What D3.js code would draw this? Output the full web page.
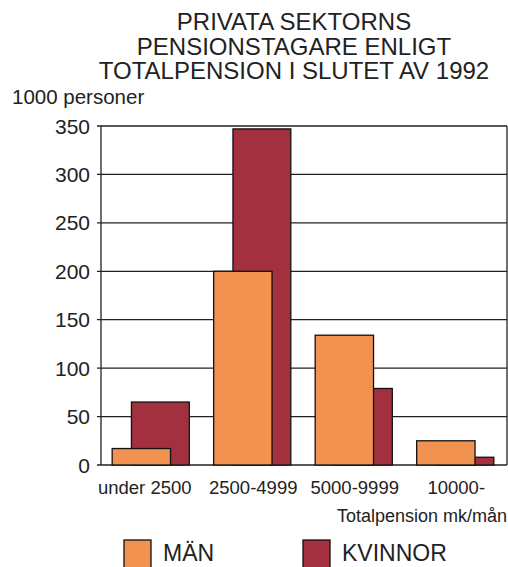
<!DOCTYPE html>
<html>
<head>
<meta charset="utf-8">
<script src="https://cdn.jsdelivr.net/npm/d3@7"></script>
<style>
  body { margin: 0; background: #fff; }
  svg { display: block; font-family: "Liberation Sans", Arial, sans-serif; }
</style>
</head>
<body>
<svg id="chart" width="508" height="567"></svg>
<script>
const categories = ["under 2500", "2500-4999", "5000-9999", "10000-"];
const man = [17, 200, 134, 25];
const kvinnor = [65, 347, 79, 8];
const yTicks = [0, 50, 100, 150, 200, 250, 300, 350];
const titleLines = ["PRIVATA SEKTORNS", "PENSIONSTAGARE ENLIGT", "TOTALPENSION I SLUTET AV 1992"];

const ORANGE = "#f19250";
const RED = "#a3303f";

const svg = d3.select("svg#chart");

const x = d3.scaleBand()
  .domain(categories)
  .range([101, 507])
  .padding(0);

const y = d3.scaleLinear()
  .domain([0, 350])
  .range([465, 126]);

// title
svg.append("g")
  .selectAll("text")
  .data(titleLines)
  .join("text")
  .attr("x", 294)
  .attr("y", (d, i) => 30 + i * 24.5)
  .attr("text-anchor", "middle")
  .attr("font-size", 24)
  .attr("fill", "#222")
  .text(d => d);

svg.append("text")
  .attr("x", 12)
  .attr("y", 104)
  .attr("font-size", 20.5)
  .attr("fill", "#222")
  .text("1000 personer");

// gridlines
svg.append("g")
  .selectAll("line")
  .data(yTicks)
  .join("line")
  .attr("x1", 97)
  .attr("x2", 507)
  .attr("y1", d => y(d))
  .attr("y2", d => y(d))
  .attr("stroke", "#222")
  .attr("stroke-width", 1.3);

svg.append("g")
  .selectAll("text")
  .data(yTicks)
  .join("text")
  .attr("x", 90)
  .attr("y", d => y(d) + 7.5)
  .attr("text-anchor", "end")
  .attr("font-size", 21)
  .attr("fill", "#222")
  .text(d => d);

// frame sides
svg.append("line")
  .attr("x1", 101).attr("x2", 101)
  .attr("y1", y(350)).attr("y2", y(0))
  .attr("stroke", "#222").attr("stroke-width", 1.3);
svg.append("line")
  .attr("x1", 507).attr("x2", 507)
  .attr("y1", y(350)).attr("y2", y(0))
  .attr("stroke", "#222").attr("stroke-width", 1.3);

const bw = x.bandwidth();

// kvinnor behind
svg.append("g")
  .selectAll("rect")
  .data(kvinnor)
  .join("rect")
  .attr("x", (d, i) => x(categories[i]) + bw * 0.30)
  .attr("y", d => y(d))
  .attr("width", bw * 0.57)
  .attr("height", d => y(0) - y(d))
  .attr("fill", RED)
  .attr("stroke", "#111")
  .attr("stroke-width", 1.3);

// män in front
svg.append("g")
  .selectAll("rect")
  .data(man)
  .join("rect")
  .attr("x", (d, i) => x(categories[i]) + bw * 0.11)
  .attr("y", d => y(d))
  .attr("width", bw * 0.575)
  .attr("height", d => y(0) - y(d))
  .attr("fill", ORANGE)
  .attr("stroke", "#111")
  .attr("stroke-width", 1.3);

// category labels
svg.append("g")
  .selectAll("text")
  .data(categories)
  .join("text")
  .attr("x", d => x(d) + bw / 2 - (d === categories[0] ? 7 : 0))
  .attr("y", 494)
  .attr("text-anchor", "middle")
  .attr("font-size", 18.5)
  .attr("fill", "#222")
  .text(d => d);

svg.append("text")
  .attr("x", 507)
  .attr("y", 522)
  .attr("text-anchor", "end")
  .attr("font-size", 18)
  .attr("fill", "#222")
  .text("Totalpension mk/mån");

// legend
const legend = [
  { name: "MÄN", color: ORANGE, x: 124 },
  { name: "KVINNOR", color: RED, x: 303 }
];
const lg = svg.append("g")
  .selectAll("g")
  .data(legend)
  .join("g")
  .attr("transform", d => `translate(${d.x},540)`);
lg.append("rect")
  .attr("width", 27)
  .attr("height", 30)
  .attr("fill", d => d.color)
  .attr("stroke", "#111")
  .attr("stroke-width", 1.3);
lg.append("text")
  .attr("x", 39)
  .attr("y", 21)
  .attr("font-size", 23)
  .attr("fill", "#222")
  .text(d => d.name);
</script>
</body>
</html>
